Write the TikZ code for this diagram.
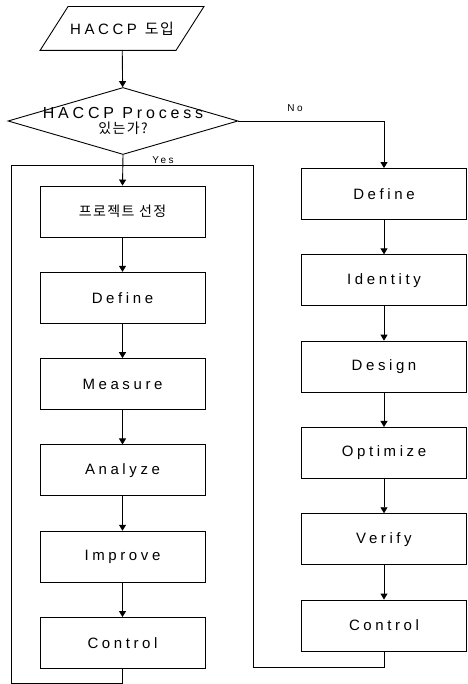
\documentclass[tikz,border=0pt]{standalone}
\usepackage{fontspec}
\setmainfont{Liberation Sans}[LetterSpace=24]
\newfontfamily\kr{Noto Sans CJK KR}[LetterSpace=10]
\usetikzlibrary{positioning,arrows.meta,shapes.geometric}

\begin{document}
\begin{tikzpicture}[
    x=1pt,y=1pt,
    line width=0.9pt,
    box/.style={draw,rectangle,minimum width=165pt,minimum height=51pt,
                inner sep=2pt,align=center,font=\fontsize{15}{16}\selectfont},
    io/.style={rectangle,minimum width=163pt,minimum height=43pt,
               inner sep=0pt,font=\fontsize{15}{16}\selectfont},
    decision/.style={draw,diamond,minimum width=230pt,minimum height=67pt,inner sep=0pt},
    lbl/.style={font=\fontsize{10}{11}\selectfont,inner sep=1pt},
    arr/.style={-{Triangle[length=6pt,width=7pt]}},
    node distance=34.4pt,
  ]
    \useasboundingbox (0,0) rectangle (467,-684);

    \node[io] (start) at (122,-28.5) {HACCP {\kr\fontsize{15}{16}\selectfont 도입}};
    \draw (start.south west) -- ([xshift=-28pt]start.south east)
      -- (start.north east) -- ([xshift=28pt]start.north west) -- cycle;
    \node[decision] (q) at (123,-121) {};
    \node[align=center,font=\fontsize{16}{14}\selectfont,inner sep=0pt] (qtxt) at (q)
      {HACCP Process\\[1pt]{\kr\fontsize{14}{14}\selectfont 있는가?}};

    % Yes branch
    \node[box] (sel) at (122.5,-211.5) {\kr\fontsize{14}{15}\selectfont 프로젝트 선정};
    \node[box,below=of sel] (ldef) {Define};
    \node[box,below=of ldef] (meas) {Measure};
    \node[box,below=of meas] (anal) {Analyze};
    \node[box,below=of anal] (impr) {Improve};
    \node[box,below=of impr] (lctl) {Control};

    % No branch
    \node[box] (rdef) at (384,-194) {Define};
    \node[box,below=of rdef] (iden) {Identity};
    \node[box,below=of iden] (desg) {Design};
    \node[box,below=of desg] (opti) {Optimize};
    \node[box,below=of opti] (veri) {Verify};
    \node[box,below=of veri] (rctl) {Control};

    \node[lbl] (yes) at (163,-160.5) {Yes};
    \node[lbl] (no) at (295,-108) {No};

    \coordinate (fl) at (11,-165);
    \coordinate (fr) at (253,-165);
    \coordinate (lb) at (11,-683);
    \coordinate (fb) at (253,-667);

    \draw[arr] (start) -- (q);
    \draw[arr] (q.south) -- (sel.north);
    \draw[arr] (q.east) -| (rdef.north);
    \draw[arr] (sel) -- (ldef);
    \draw[arr] (ldef) -- (meas);
    \draw[arr] (meas) -- (anal);
    \draw[arr] (anal) -- (impr);
    \draw[arr] (impr) -- (lctl);
    \draw[arr] (rdef) -- (iden);
    \draw[arr] (iden) -- (desg);
    \draw[arr] (desg) -- (opti);
    \draw[arr] (opti) -- (veri);
    \draw[arr] (veri) -- (rctl);

    % feedback frame
    \draw (lctl.south) |- (lb) -- (fl) -- (fr) -- (fb) -| (rctl.south);
  \end{tikzpicture}
\end{document}
